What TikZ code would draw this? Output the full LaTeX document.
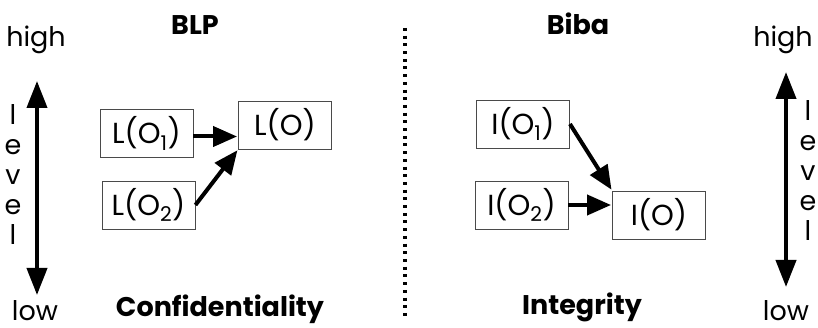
\documentclass[tikz,border=0pt]{standalone}
\usepackage{fontspec}
\setmainfont{Poppins}
\usepackage{tikz}
\usetikzlibrary{arrows.meta,positioning}
\definecolor{boxline}{HTML}{4A4A4A}
\tikzset{
  txt/.style={font=\fontsize{27}{30}\selectfont, inner sep=0pt, anchor=base},
  title/.style={txt, font=\fontsize{27}{30}\selectfont\bfseries},
  letters/.style={font=\fontsize{27}{30}\selectfont, inner sep=0pt, align=center, anchor=base},
  objbox/.style={draw=boxline, line width=0.9pt, minimum width=93pt, minimum height=48pt, inner sep=0pt, font=\fontsize{29}{30}\selectfont},
  arrow/.style={-{Triangle[length=24pt, width=20pt]}, line width=4pt, shorten >=1pt},
  levelaxis/.style={{Triangle[length=27pt, width=20pt]}-{Triangle[length=27pt, width=20pt]}, line width=4pt},
  divider/.style={line width=3.5pt, dash pattern=on 3pt off 4.7pt}
}
\begin{document}
\begin{tikzpicture}[x=1pt, y=-1pt]
  \useasboundingbox (0,0) rectangle (818,328);

  % BLP side
  \node[title] (blp) at (195,35) {BLP};
  \node[txt] (highL) at (36,47) {high};
  \node[txt] (lowL) at (35,320) {low};
  \node[title] (conf) at (220,316) {Confidentiality};
  \coordinate (topL) at (37,81);
  \coordinate (botL) at (37,295);
  \draw[levelaxis] (botL) -- (topL);
  \node[letters, anchor=north] (levelL) at (13,104) {l\\e\\v\\e\\l};
  \node[objbox] (lo1) at (146.5,133.5) {L(O\textsubscript{1})};
  \node[objbox] (lo) at (285,125) {L(O)};
  \node[objbox] (lo2) at (148.5,205) {L(O\textsubscript{2})};
  \draw[arrow] ([yshift=-3pt]lo1.east) -- ([yshift=-3pt]lo.west |- lo1.east);
  \draw[arrow] (lo2.east) -- (lo.south west);

  % divider
  \coordinate (divtop) at (405,28);
  \coordinate (divbot) at (405,316);
  \draw[divider] (divtop) -- (divbot);

  % Biba side
  \node[title] (biba) at (578,35) {Biba};
  \node[txt] (highR) at (783,47) {high};
  \node[txt] (lowR) at (786,320) {low};
  \node[title] (integ) at (582,314) {Integrity};
  \coordinate (topR) at (786,72);
  \coordinate (botR) at (786,287);
  \draw[levelaxis] (botR) -- (topR);
  \node[letters, anchor=north] (levelR) at (808,100) {l\\e\\v\\e\\l};
  \node[objbox] (io1) at (523,124) {I(O\textsubscript{1})};
  \node[objbox] (io2) at (521.5,205) {I(O\textsubscript{2})};
  \node[objbox] (io) at (659,215) {I(O)};
  \draw[arrow] (io1.east) -- (io.north west);
  \draw[arrow] (io2.east) -- (io.west |- io2.east);
\end{tikzpicture}
\end{document}
